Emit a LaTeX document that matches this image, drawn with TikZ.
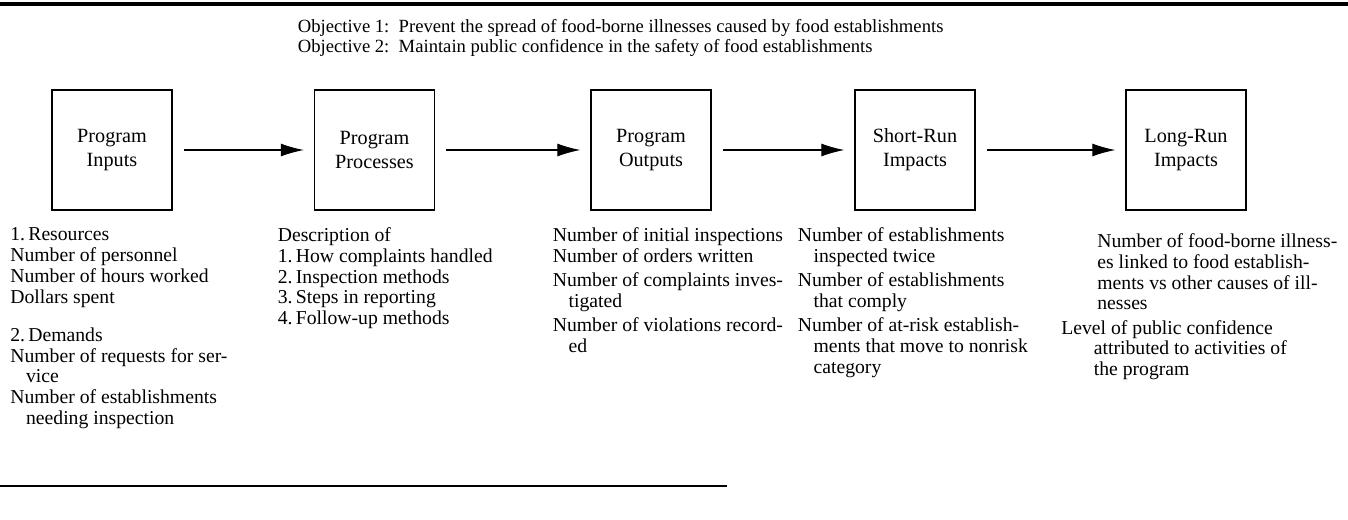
\documentclass[tikz,border=0pt]{standalone}
\usepackage{fontspec}
\setmainfont{Liberation Serif}
\usetikzlibrary{arrows.meta}
\newcommand{\wrapind}{\hspace*{0.8em}}

\begin{document}
\begin{tikzpicture}[
    box/.style={rectangle, draw, thick, minimum width=2.4cm, minimum height=2.4cm, align=center, font=\fontsize{11.5}{13.6}\selectfont},
    col/.style={anchor=north west, align=left, inner sep=0pt, font=\fontsize{11.2}{11.8}\selectfont},
    flow/.style={-{Latex[length=4.6mm,width=2.6mm]}, semithick, shorten <=2.2mm, shorten >=2mm}
]
    \useasboundingbox (0,0) rectangle (26.96,-10.38);

    % Rules
    \draw[line width=2.8pt] (0,-0.08) -- (26.96,-0.08);
    \draw[line width=1pt] (0,-9.72) -- (14.54,-9.72);

    % Objectives
    \node[anchor=west, align=left, inner sep=0pt, font=\fontsize{10.6}{11.8}\selectfont] (obj) at (5.95,-0.76)
        {Objective 1:\ \ Prevent the spread of food-borne illnesses caused by food establishments\\
         Objective 2:\ \ Maintain public confidence in the safety of food establishments};

    % Nodes
    \node[box] (in)  at (2.24,-3.0)  {Program\\Inputs};
    \node[box] (pr)  at (7.49,-3.0)  {Program\\Processes};
    \node[box] (out) at (13.02,-3.0) {Program\\Outputs};
    \node[box] (sr)  at (18.3,-3.0)  {Short-Run\\Impacts};
    \node[box] (lr)  at (23.72,-3.0) {Long-Run\\Impacts};

    \draw[flow] (in) -- (pr);
    \draw[flow] (pr) -- (out);
    \draw[flow] (out) -- (sr);
    \draw[flow] (sr) -- (lr);

    % Measures
    \node[col] (inlist) at (0.2,-4.55) {1.\,Resources\\
        Number of personnel\\
        Number of hours worked\\
        Dollars spent\\[10pt]
        2.\,Demands\\
        Number of requests for ser-\\
        \wrapind vice\\
        Number of establishments\\
        \wrapind needing inspection};
    \node[col] (prlist) at (5.55,-4.55) {Description of\\
        1.\,How complaints handled\\
        2.\,Inspection methods\\
        3.\,Steps in reporting\\
        4.\,Follow-up methods};
    \node[col] (outlist) at (11.05,-4.55) {Number of initial inspections\\
        Number of orders written\\[2pt]
        Number of complaints inves-\\
        \wrapind tigated\\[2pt]
        Number of violations record-\\
        \wrapind ed};
    \node[col] (srlist) at (15.95,-4.55) {Number of establishments\\
        \wrapind inspected twice\\[2pt]
        Number of establishments\\
        \wrapind that comply\\[2pt]
        Number of at-risk establish-\\
        \wrapind ments that move to nonrisk\\
        \wrapind category};
    \node[col] (lrlist) at (21.22,-4.67) {\hspace*{0.72cm}Number of food-borne illness-\\
        \hspace*{0.72cm}es linked to food establish-\\
        \hspace*{0.72cm}ments vs other causes of ill-\\
        \hspace*{0.72cm}nesses\\[2pt]
        Level of public confidence\\
        \hspace*{0.65cm}attributed to activities of\\
        \hspace*{0.65cm}the program};
\end{tikzpicture}
\end{document}
